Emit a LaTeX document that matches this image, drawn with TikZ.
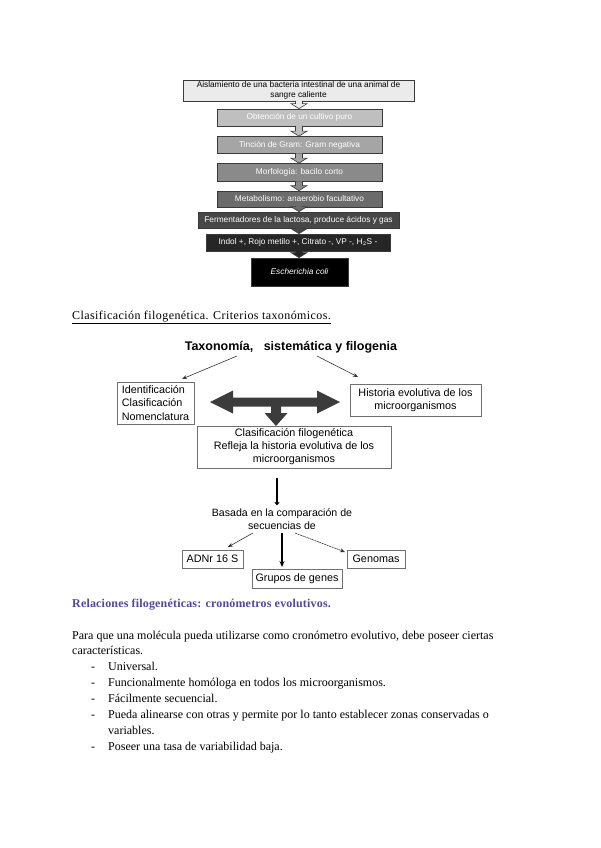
\documentclass[tikz,border=0pt]{standalone}
\usepackage{fontspec}
\setmainfont{Liberation Serif}
\newfontfamily\arialf{Liberation Sans}
\usetikzlibrary{arrows.meta,calc}
\definecolor{fcA}{HTML}{EBEBEB}
\definecolor{fcB}{HTML}{BFBFBF}
\definecolor{fcC}{HTML}{A5A5A5}
\definecolor{fcD}{HTML}{8A8A8A}
\definecolor{fcE}{HTML}{6B6B6B}
\definecolor{fcF}{HTML}{474747}
\definecolor{fcG}{HTML}{262626}
\definecolor{fcH}{HTML}{000000}
\definecolor{frame}{HTML}{3A3A3A}
\definecolor{boxline}{HTML}{707070}
\definecolor{bigarrow}{HTML}{3C3C3C}
\definecolor{headblue}{HTML}{54479A}
\begin{document}
\begin{tikzpicture}[x=1pt,y=-1pt,
  flowbox/.style={draw=frame,line width=0.7pt,minimum height=#1,inner sep=0pt,
     font=\arialf\fontsize{8.3}{9.6}\selectfont,text=white,align=center},
  flowbox/.default=17pt,
  diabox/.style={draw=boxline,line width=0.6pt,inner sep=0pt,
     font=\arialf\fontsize{10.8}{13.5}\selectfont,align=center},
  bodytext/.style={anchor=base west,inner sep=0pt,font=\fontsize{12}{14}\selectfont},
  thinarrow/.style={draw=black!80,line width=0.6pt,-{Stealth[length=5pt,width=4pt]}},
]
\useasboundingbox[fill=white] (0,0) rectangle (600,848);

% ---------- flowchart ----------
\node[flowbox=21pt,fill=fcA,text=black,minimum width=231pt] (f1) at (298.5,90.5)
  {Aislamiento de una bacteria intestinal de una animal de\\sangre caliente};
\node[flowbox,fill=fcB,minimum width=165pt] (f2) at (299.5,117.5) {Obtención de un cultivo puro};
\node[flowbox,fill=fcC,minimum width=165pt] (f3) at (299.5,145) {Tinción de Gram: Gram negativa};
\node[flowbox=18pt,fill=fcD,minimum width=165pt] (f4) at (299.5,172.5) {Morfología: bacilo corto};
\node[flowbox=16pt,fill=fcE,minimum width=165pt] (f5) at (299.5,199) {Metabolismo: anaerobio facultativo};
\node[flowbox=16pt,fill=fcF,minimum width=201pt] (f6) at (298.5,220) {Fermentadores de la lactosa, produce ácidos y gas};
\node[flowbox=17pt,fill=fcG,minimum width=184pt] (f7) at (298,242.5) {Indol +, Rojo metilo +, Citrato -, VP -, H$_2$S -};
\node[flowbox=28pt,fill=fcH,minimum width=97pt] (f8) at (299.5,272) {\itshape Escherichia coli};

\foreach \a/\b/\c in {f1/f2/fcA,f2/f3/fcB,f3/f4/fcC,f4/f5/fcD,f5/f6/fcE,f6/f7/fcF,f7/f8/fcG}{
  \path let \p1=(\a.south), \p2=(\b.north) in
    coordinate (t) at (299,\y1) coordinate (u) at (299,\y2);
  \draw[frame,fill=\c,line width=0.6pt]
    let \p1=(t), \p2=(u) in
    (\x1-3.5,\y1+0.5) -- (\x1-3.5,\y2+5) -- (\x1-8,\y2+5) -- (\x1,\y2)
    -- (\x1+8,\y2+5) -- (\x1+3.5,\y2+5) -- (\x1+3.5,\y1+0.5);
}

% ---------- heading 1 ----------
\node[bodytext,font=\fontsize{12}{14}\selectfont\addfontfeature{LetterSpace=3.5}] (h1) at (72,319)
  {\underline{Clasificación filogenética. Criterios taxonómicos.}};

% ---------- diagram 2 ----------
\node[inner sep=0pt,font=\arialf\bfseries\fontsize{12.5}{14}\selectfont] (tax) at (291,347)
  {Taxonomía,\ \ \ sistemática y filogenia};
\node[diabox,minimum width=77pt,minimum height=42pt,align=left] (idb) at (155.5,403)
  {Identificación\\Clasificación\\Nomenclatura};
\node[diabox,minimum width=131pt,minimum height=32pt] (hist) at (415.5,400)
  {Historia evolutiva de los\\microorganismos};
\node[diabox,minimum width=194pt,minimum height=42pt,font=\arialf\fontsize{10.8}{13}\selectfont] (clf) at (294,447)
  {Clasificación filogenética\\Refleja la historia evolutiva de los\\microorganismos};

\coordinate (tl) at (237,356);
\coordinate (tr) at (317,356);
\coordinate (al) at (182,379);
\coordinate (ar) at (358,377);
\draw[thinarrow] (tl) -- (al);
\draw[thinarrow] (tr) -- (ar);

% big double arrow and down arrow
\fill[bigarrow]
  (210,402) -- (233,390.5) -- (233,397.5) -- (317,397.5) -- (317,390.5) -- (340,402)
  -- (317,413.5) -- (317,406.5) -- (281,406.5) -- (281,413) -- (287.5,413)
  -- (276,426) -- (264.5,413) -- (271,413) -- (271,406.5) -- (233,406.5) -- (233,413.5) -- cycle;

\node[inner sep=0pt,font=\arialf\fontsize{10.6}{13}\selectfont,align=center] (bas) at (282,519)
  {Basada en la comparación de\\secuencias de};
\coordinate (vt) at (277,478);
\draw[line width=2.6pt,-{Triangle[length=3pt,width=5pt]}] (vt) -- ($(bas.north -| vt)+(0,-3)$);

\node[diabox,minimum width=61pt,minimum height=18pt] (adn) at (212.5,559) {ADNr 16 S};
\node[diabox,minimum width=90pt,minimum height=19pt] (grp) at (297,578.5) {Grupos de genes};
\node[diabox,minimum width=58pt,minimum height=18pt] (gen) at (376,559) {Genomas};

\coordinate (bl) at (253,533);
\coordinate (bm) at (282,533);
\coordinate (br) at (295,533);
\draw[thinarrow] (bl) -- (228,547);
\draw[draw=black,line width=1.1pt,-{Stealth[length=6pt,width=5pt]}] (bm) -- (282,567);
\draw[thinarrow,dash pattern=on 2pt off 0.6pt] (br) -- (345,552);

% ---------- heading 2 and text ----------
\node[bodytext,font=\bfseries\fontsize{12}{14}\selectfont\addfontfeature{LetterSpace=1.5},text=headblue] (h2) at (72,607)
  {Relaciones filogenéticas: cronómetros evolutivos.};
\node[bodytext] (p1) at (72,639) {Para que una molécula pueda utilizarse como cronómetro evolutivo, debe poseer ciertas};
\node[bodytext] (p2) at (72,654.9) {características.};
\foreach \t/\yy [count=\i] in {Universal./670.8,
  Funcionalmente homóloga en todos los microorganismos./686.7,
  Fácilmente secuencial./702.6,
  Pueda alinearse con otras y permite por lo tanto establecer zonas conservadas o/718.5,
  Poseer una tasa de variabilidad baja./750.3}{
  \node[bodytext] (d\i) at (91,\yy) {-};
  \node[bodytext] (l\i) at (108,\yy) {\t};
}
\node[bodytext] (l6) at (108,734.4) {variables.};
\end{tikzpicture}
\end{document}
